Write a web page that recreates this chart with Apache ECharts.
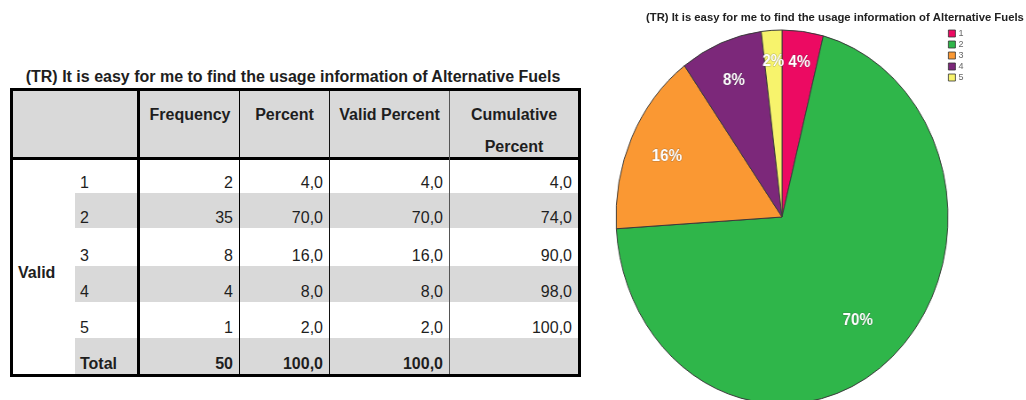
<!DOCTYPE html>
<html>
<head>
<meta charset="utf-8">
<script src="https://cdn.jsdelivr.net/npm/echarts/dist/echarts.min.js"></script>
<style>
  html, body { margin: 0; padding: 0; background: #fff; }
  body { width: 1026px; height: 400px; overflow: hidden; position: relative;
         font-family: "Liberation Sans", Arial, sans-serif; color: #1e1e1e; }
  .abs { position: absolute; box-sizing: border-box; }
  .txt { position: absolute; white-space: nowrap; font-size: 16px; line-height: 20px; height: 20px; }
  .b { font-weight: bold; }
  #pie { position: absolute; left: 572px; top: 7px; width: 420px; height: 420px;
         transform: scaleX(0.8877); transform-origin: 50% 50%; }
  #head { position: absolute; left: 600px; top: 0; width: 426px; height: 110px; }
</style>
</head>
<body>
<div id="pie"></div>
<div id="head"></div>
<script>
// ---- frequency table data ----
const titleText = '(TR) It is easy for me to find the usage information of Alternative Fuels';
const headers = ['Frequency', 'Percent', 'Valid Percent', 'Cumulative Percent'];
const groupLabel = 'Valid';
const categories = ['1', '2', '3', '4', '5'];
const frequency = [2, 35, 8, 4, 1];
const percent = [4.0, 70.0, 16.0, 8.0, 2.0];
const validPercent = [4.0, 70.0, 16.0, 8.0, 2.0];
const cumulativePercent = [4.0, 74.0, 90.0, 98.0, 100.0];
const totalLabel = 'Total';
const totalFrequency = 50;
const totalPercent = 100.0;
const totalValidPercent = 100.0;

// slice colours for categories 1..5
const sliceColors = ['#EC0A62', '#2FB64A', '#FA9833', '#7C287A', '#F7F36C'];

const fmt = v => v.toFixed(1).replace('.', ',');

// ---- table layout ----
const body = document.body;
function box(l, t, w, h, css) {
  const d = document.createElement('div');
  d.className = 'abs';
  d.style.left = l + 'px'; d.style.top = t + 'px';
  d.style.width = w + 'px'; d.style.height = h + 'px';
  Object.assign(d.style, css || {});
  body.appendChild(d);
  return d;
}
function text(str, x, cy, align, bold) {
  const d = document.createElement('div');
  d.className = 'txt' + (bold ? ' b' : '');
  d.textContent = str;
  d.style.top = (cy - 10) + 'px';
  body.appendChild(d);
  const w = d.getBoundingClientRect().width;
  if (align === 'right') d.style.left = (x - w) + 'px';
  else if (align === 'center') d.style.left = (x - w / 2) + 'px';
  else d.style.left = x + 'px';
  return d;
}

const L = 13, R = 578, T = 91, HB = 157, B = 374;
const rowTops = [160, 193, 228, 266, 302, 338, 374];
const grey = '#D9D9D9';

// header background and striped body rows
box(L, T, R - L, HB - T, { background: grey });
for (let i = 1; i < 6; i += 2) {
  box(75, rowTops[i], R - 75, rowTops[i + 1] - rowTops[i], { background: grey });
}
// rules
box(L, HB, R - L, 3, { background: '#000' });
box(137, T, 3, B - T, { background: '#000' });
box(239, T, 1, B - T, { background: '#000' });
box(329, T, 1, B - T, { background: '#111' });
box(449, T, 1, B - T, { background: '#555' });
box(10, 88, 571, 289, { border: '3px solid #000' });

// title
text(titleText, 293, 77, 'center', true);

// header labels
text(headers[0], 190, 115, 'center', true);
text(headers[1], 284.5, 115, 'center', true);
text(headers[2], 389.5, 115, 'center', true);
const cum = headers[3].split(' ');
text(cum[0], 514, 115, 'center', true);
text(cum[1], 514, 147, 'center', true);

// body rows
const colRight = [233, 323, 443, 572];
categories.forEach((c, i) => {
  const cy = rowTops[i + 1] - 10;
  text(c, 80, cy, 'left');
  text(String(frequency[i]), colRight[0], cy, 'right');
  text(fmt(percent[i]), colRight[1], cy, 'right');
  text(fmt(validPercent[i]), colRight[2], cy, 'right');
  text(fmt(cumulativePercent[i]), colRight[3], cy, 'right');
});
text(groupLabel, 18, 273, 'left', true);
const tcy = rowTops[6] - 10;
text(totalLabel, 80, tcy, 'left', true);
text(String(totalFrequency), colRight[0], tcy, 'right', true);
text(fmt(totalPercent), colRight[1], tcy, 'right', true);
text(fmt(totalValidPercent), colRight[2], tcy, 'right', true);

// ---- pie chart ----
const pieData = categories.map((c, i) => ({
  name: c, value: frequency[i], itemStyle: { color: sliceColors[i] }
}));
const OUTER = 187;
// label ring (fraction of radius where each slice's label sits)
const labelRing = [0.82, 0.70, 0.75, 0.77, 0.82];

const pieSeries = [{
  type: 'pie', radius: OUTER, center: ['50%', '50%'],
  startAngle: 90, clockwise: true, silent: true, animation: false,
  label: { show: false }, labelLine: { show: false },
  itemStyle: { borderColor: '#3a3a3a', borderWidth: 1 },
  data: pieData
}];
[...new Set(labelRing)].forEach(f => {
  pieSeries.push({
    type: 'pie', radius: [(2 * f - 1) * OUTER, OUTER], center: ['50%', '50%'],
    startAngle: 90, clockwise: true, silent: true, animation: false,
    percentPrecision: 0,
    itemStyle: { color: 'rgba(0,0,0,0)', borderWidth: 0 },
    labelLine: { show: false },
    label: {
      position: 'inside', formatter: '{d}%', color: '#fff',
      fontFamily: 'Liberation Sans', fontWeight: 'bold', fontSize: 17,
      textBorderColor: 'rgba(60,60,60,0.35)', textBorderWidth: 1
    },
    data: pieData.map((d, i) => ({
      name: d.name, value: d.value,
      label: { show: labelRing[i] === f }
    }))
  });
});
const pieChart = echarts.init(document.getElementById('pie'), null, { renderer: 'canvas' });
pieChart.setOption({ animation: false, series: pieSeries });

// ---- chart title and legend ----
const headChart = echarts.init(document.getElementById('head'), null, { renderer: 'canvas' });
headChart.setOption({
  animation: false,
  title: {
    text: titleText, left: 46, top: 12, padding: 0,
    textStyle: { fontFamily: 'Liberation Sans', fontSize: 11.3, fontWeight: 'bold', color: '#222' }
  },
  legend: {
    orient: 'vertical', left: 348, top: 29, padding: 0,
    itemWidth: 7, itemHeight: 7, itemGap: 2, icon: 'rect',
    itemStyle: { borderColor: '#333', borderWidth: 0.8 },
    textStyle: { fontFamily: 'Liberation Sans', fontSize: 9, color: '#666', padding: [0, 0, 0, -2] },
    data: categories
  },
  series: [{
    type: 'pie', radius: [0, 0], silent: true, label: { show: false },
    labelLine: { show: false }, data: pieData
  }]
});
</script>
</body>
</html>
